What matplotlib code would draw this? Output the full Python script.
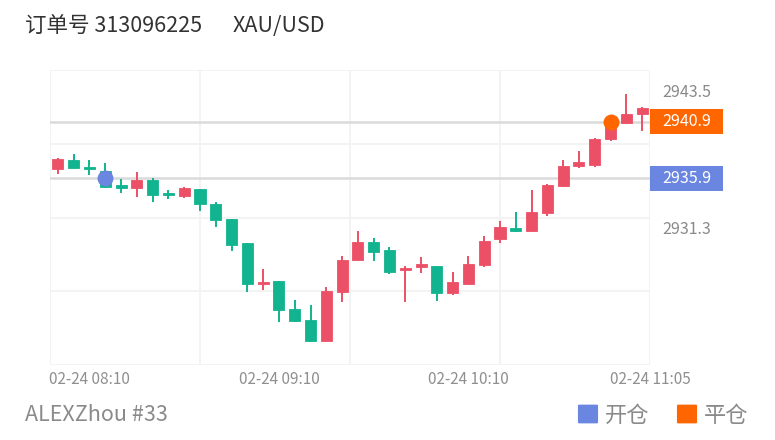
import matplotlib
matplotlib.use("Agg")
import matplotlib.pyplot as plt
from matplotlib.patches import Rectangle, FancyBboxPatch
from matplotlib.transforms import blended_transform_factory
import numpy as np

plt.rcParams['font.family'] = ['Noto Sans CJK SC', 'DejaVu Sans']

# ---- data ----
opens  = [2936.7, 2937.5, 2936.9, 2936.5, 2935.3, 2935.0, 2935.7, 2934.6, 2934.3, 2934.9,
          2933.6, 2932.3, 2930.1, 2926.5, 2926.8, 2924.3, 2923.3, 2921.4, 2925.8, 2928.6,
          2930.2, 2929.5, 2927.7, 2928.0, 2928.1, 2925.7, 2926.5, 2928.2, 2930.5, 2931.5,
          2931.2, 2932.8, 2935.2, 2937.0, 2937.1, 2939.4, 2940.8, 2941.6]
closes = [2937.6, 2936.8, 2936.7, 2935.1, 2935.0, 2935.7, 2934.4, 2934.4, 2935.0, 2933.6,
          2932.2, 2930.0, 2926.5, 2926.7, 2924.2, 2923.2, 2921.4, 2925.9, 2928.6, 2930.2,
          2929.3, 2927.6, 2927.9, 2928.3, 2925.7, 2926.7, 2928.3, 2930.3, 2931.6, 2931.2,
          2932.9, 2935.3, 2937.0, 2937.3, 2939.4, 2940.9, 2941.6, 2942.1]
highs  = [2937.7, 2938.0, 2937.5, 2937.2, 2935.8, 2936.4, 2935.9, 2934.8, 2935.1, 2934.9,
          2933.8, 2932.3, 2930.1, 2927.8, 2926.8, 2925.1, 2924.6, 2926.2, 2929.0, 2931.2,
          2930.6, 2929.8, 2928.1, 2928.9, 2928.1, 2927.6, 2929.0, 2930.8, 2932.1, 2932.9,
          2934.8, 2935.4, 2937.5, 2938.3, 2939.5, 2940.9, 2943.4, 2942.2]
lows   = [2936.3, 2936.8, 2936.2, 2935.0, 2934.6, 2934.2, 2933.8, 2934.0, 2934.1, 2933.0,
          2931.6, 2929.4, 2925.8, 2926.0, 2923.1, 2923.1, 2921.3, 2921.4, 2924.9, 2928.6,
          2928.5, 2927.4, 2924.9, 2927.5, 2925.0, 2925.5, 2926.5, 2928.0, 2930.1, 2931.1,
          2931.2, 2932.5, 2935.1, 2936.8, 2936.9, 2939.2, 2940.8, 2940.1]
tick_idx = [2, 14, 26, 37]
tick_labels = ['02-24 08:10', '02-24 09:10', '02-24 10:10', '02-24 11:05']
open_idx, open_price = 3, 2935.9
close_idx, close_price = 35, 2940.9
axis_labels = [2943.5, 2931.3]
title_order = '订单号 313096225'
title_symbol = 'XAU/USD'
footer = 'ALEXZhou #33'
legend_items = ['开仓', '平仓']

UP = '#ec5066'
DOWN = '#12b38f'
BLUE = '#6a86e0'
ORANGE = '#ff6600'

W, H = 775, 440
fig = plt.figure(figsize=(W/100, H/100), dpi=100)
ax = fig.add_axes([50/W, (H-365)/H, 600/W, 295/H])
n = len(opens)
ymin, ymax = 2919.29, 2945.51
ax.set_xlim(-0.5, n - 0.5)
ax.set_ylim(ymin, ymax)
for s in ax.spines.values():
    s.set_visible(False)
ax.set_xticks([]); ax.set_yticks([])

# grid
for gy in np.linspace(ymin, ymax, 5):
    ax.axhline(gy, color='#f2f2f2', lw=1.3, zorder=0)
for gx in np.arange(-0.5, n, 9.5):
    ax.axvline(gx, color='#f2f2f2', lw=1.3, zorder=0)

# mark lines
ax.axhline(open_price, color='#dadada', lw=1.8, zorder=1)
ax.axhline(close_price, color='#dadada', lw=1.8, zorder=1)

bw = 0.7
for i in range(n):
    o, c, h, l = opens[i], closes[i], highs[i], lows[i]
    col = UP if c >= o else DOWN
    ax.vlines(i, l, h, color=col, lw=1.4, zorder=2)
    bot = min(o, c)
    ht = max(abs(c - o), 0.12)
    ax.add_patch(Rectangle((i - bw/2, bot), bw, ht, facecolor=col, edgecolor=col, lw=0.6, zorder=3))

ax.plot([open_idx], [open_price], 'o', ms=11.5, color=BLUE, zorder=5, mec='none')
ax.plot([close_idx], [close_price], 'o', ms=11.5, color=ORANGE, zorder=5, mec='none')

# right axis labels
tr = blended_transform_factory(ax.transAxes, ax.transData)
for v in axis_labels:
    ax.text(1 + 12/600, v, f'{v:.1f}', transform=tr, ha='left', va='center',
            color='#8a8a8a', fontsize=11.5)
for v, colr in [(close_price, ORANGE), (open_price, BLUE)]:
    hh = 25 / 11.25
    ax.add_patch(Rectangle((1.0, v - hh/2), 73/600, hh, transform=tr, facecolor=colr,
                           edgecolor='none', clip_on=False, zorder=6))
    ax.text(1 + 36.5/600, v, f'{v:.1f}', transform=tr, ha='center', va='center',
            color='white', fontsize=11.5, zorder=7)

# x labels
trx = blended_transform_factory(ax.transData, ax.transAxes)
for k, (ti, lab) in enumerate(zip(tick_idx, tick_labels)):
    xpos = ti + (0.5 if k == len(tick_idx) - 1 else 0)
    ax.text(xpos, -14/295, lab, transform=trx, ha='center', va='center',
            color='#8f8f8f', fontsize=11)

# title & footer
fig.text(25/W, 1 - 26/H, title_order, ha='left', va='center', color='#333333', fontsize=15.5)
fig.text(233/W, 1 - 26/H, title_symbol, ha='left', va='center', color='#333333', fontsize=15.5)
fig.text(25/W, 1 - 415/H, footer, ha='left', va='center', color='#8a8a8a', fontsize=15.5)

# legend
for (x0, lab, colr) in [(578, legend_items[0], BLUE), (677, legend_items[1], ORANGE)]:
    fig.patches.append(FancyBboxPatch(((x0 + 1.5)/W, 1 - (424 - 1.5)/H), 17/W, 17/H,
                                      boxstyle='round,pad=0.002', transform=fig.transFigure,
                                      facecolor=colr, edgecolor='none'))
    fig.text((x0 + 27)/W, 1 - 415/H, lab, ha='left', va='center', color='#8a8a8a', fontsize=16)

fig.savefig('out.png', dpi=100, facecolor='white')
